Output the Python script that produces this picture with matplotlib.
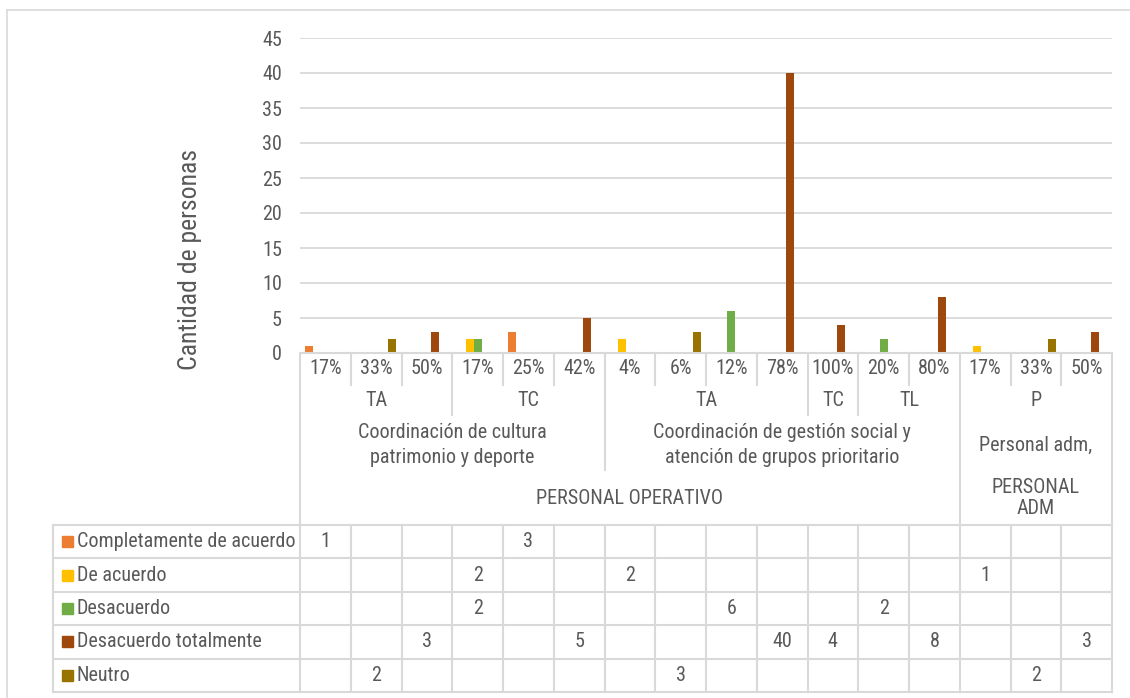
import numpy as np
import matplotlib
matplotlib.use("Agg")
import matplotlib.pyplot as plt
from matplotlib import font_manager as fm
from matplotlib.transforms import blended_transform_factory
from matplotlib.patches import Rectangle

# ---- font: prefer a narrow sans face, otherwise shrink a regular one ----
_entries = fm.fontManager.ttflist
_names = {f.name for f in _entries}
FONT_STRETCH = "normal"
if "Liberation Sans Narrow" in _names:
    FONT, fs, fs_title = "Liberation Sans Narrow", 15, 19
elif "Roboto Condensed" in _names:
    FONT, fs, fs_title = "Roboto Condensed", 14.5, 18.5
elif any(f.name == "DejaVu Sans" and "condensed" in str(f.stretch) for f in _entries):
    FONT, fs, fs_title, FONT_STRETCH = "DejaVu Sans", 13.5, 17, "condensed"
else:
    FONT, fs, fs_title = "Liberation Sans", 12.6, 16

plt.rcParams['font.family'] = [FONT, 'DejaVu Sans']
plt.rcParams['font.stretch'] = FONT_STRETCH

# ---- data ----
pct_labels = ["17%", "33%", "50%", "17%", "25%", "42%", "4%", "6%", "12%",
              "78%", "100%", "20%", "80%", "17%", "33%", "50%"]
level2 = [("TA", 0, 2), ("TC", 3, 5), ("TA", 6, 9), ("TC", 10, 10),
          ("TL", 11, 12), ("P", 13, 15)]
level3 = [("Coordinación de cultura\npatrimonio y deporte", 0, 5),
          ("Coordinación de gestión social y\natención de grupos prioritario", 6, 12),
          ("Personal adm,", 13, 15)]
level4 = [("PERSONAL OPERATIVO", 0, 12), ("PERSONAL\nADM", 13, 15)]

series_names = ["Completamente de acuerdo", "De acuerdo", "Desacuerdo",
                "Desacuerdo totalmente", "Neutro"]
nan = np.nan
completamente = [1, nan, nan, nan, 3, nan, nan, nan, nan, nan, nan, nan, nan, nan, nan, nan]
de_acuerdo = [nan, nan, nan, 2, nan, nan, 2, nan, nan, nan, nan, nan, nan, 1, nan, nan]
desacuerdo = [nan, nan, nan, 2, nan, nan, nan, nan, 6, nan, nan, 2, nan, nan, nan, nan]
desacuerdo_tot = [nan, nan, 3, nan, nan, 5, nan, nan, nan, 40, 4, nan, 8, nan, nan, 3]
neutro = [nan, 2, nan, nan, nan, nan, nan, 3, nan, nan, nan, nan, nan, nan, 2, nan]
series_values = [completamente, de_acuerdo, desacuerdo, desacuerdo_tot, neutro]
colors = ["#ED7D31", "#FFC000", "#70AD47", "#9E480E", "#997300"]

# ---- figure ----
W, H = 1130, 698
fig = plt.figure(figsize=(W / 100, H / 100), dpi=100)
X0, X1, Y0, Y45 = 300, 1112, 353, 38
ax = fig.add_axes([X0 / W, 1 - Y0 / H, (X1 - X0) / W, (Y0 - Y45) / H])
ov = fig.add_axes([0, 0, 1, 1], facecolor="none")
ov.set_xlim(0, W)
ov.set_ylim(H, 0)
ov.axis("off")

grid_c = "#D9D9D9"
text_c = "#595959"

n = len(pct_labels)
x = np.arange(n)
bw = 0.158
for i, (vals, col) in enumerate(zip(series_values, colors)):
    ax.bar(x + (i - 2) * bw, np.array(vals, dtype=float), width=bw, color=col, zorder=3)

ax.set_xlim(-0.5, n - 0.5)
ax.set_ylim(0, 45)
ax.set_yticks(np.arange(0, 46, 5))
ax.set_xticks([])
ax.grid(axis="y", color=grid_c, lw=1.3, zorder=0)
for s in ax.spines.values():
    s.set_visible(False)
ax.tick_params(axis="y", length=0, pad=13, labelsize=fs, labelcolor=text_c)
ax.set_facecolor("none")

tr = blended_transform_factory(ax.transData, ov.transData)
lw = 1.5

# axis baseline
ov.plot([X0, X1], [Y0, Y0], color=grid_c, lw=lw)

# outer frame
ov.plot([7, 7], [10, H], color=grid_c, lw=1.2)
ov.plot([7, W], [10, 10], color=grid_c, lw=1.2)

# hierarchical category labels
for i, lab in enumerate(pct_labels):
    ov.text(i, 369, lab, transform=tr, ha="center", va="center", fontsize=fs, color=text_c)
for lab, a, b in level2:
    ov.text((a + b) / 2, 400, lab, transform=tr, ha="center", va="center", fontsize=fs, color=text_c)
for lab, a, b in level3:
    ov.text((a + b) / 2, 445, lab, transform=tr, ha="center", va="center", fontsize=fs,
            color=text_c, linespacing=1.35)
for lab, a, b in level4:
    ov.text((a + b) / 2, 498, lab, transform=tr, ha="center", va="center", fontsize=fs,
            color=text_c, linespacing=1.15)

# divider lines under the axis: depth depends on the grouping level of each boundary
TABLE_TOP = 525
def boundary_depth(k):
    for groups, depth in ((level4, TABLE_TOP), (level3, 470), (level2, 415)):
        starts = {a for _, a, _ in groups}
        if k in starts:
            return depth
    return 385

for k in range(n + 1):
    depth = TABLE_TOP if k in (0, n) else boundary_depth(k)
    ov.plot([k - 0.5, k - 0.5], [Y0, depth], transform=tr, color=grid_c, lw=lw)

# data table
TL = 53
rows_y = np.linspace(TABLE_TOP, 692, len(series_names) + 1)
for yy in rows_y:
    ov.plot([TL, X1], [yy, yy], color=grid_c, lw=lw)
ov.plot([TL, TL], [TABLE_TOP, rows_y[-1]], color=grid_c, lw=lw)
for k in range(n + 1):
    ov.plot([k - 0.5, k - 0.5], [TABLE_TOP, rows_y[-1]], transform=tr, color=grid_c, lw=lw)

for r, (name, vals, col) in enumerate(zip(series_names, series_values, colors)):
    yc = (rows_y[r] + rows_y[r + 1]) / 2
    ov.add_patch(Rectangle((62, yc - 5.5), 11, 11, color=col))
    ov.text(77, yc, name, ha="left", va="center", fontsize=fs, color=text_c)
    for i, v in enumerate(vals):
        if not np.isnan(v):
            ov.text(i, yc, f"{v:g}", transform=tr, ha="center", va="center",
                    fontsize=fs, color=text_c)

# axis title
ov.text(190, 259, "Cantidad de personas", rotation=90, ha="center", va="center",
        fontsize=fs_title, color=text_c)

fig.savefig("out.png", dpi=100)
